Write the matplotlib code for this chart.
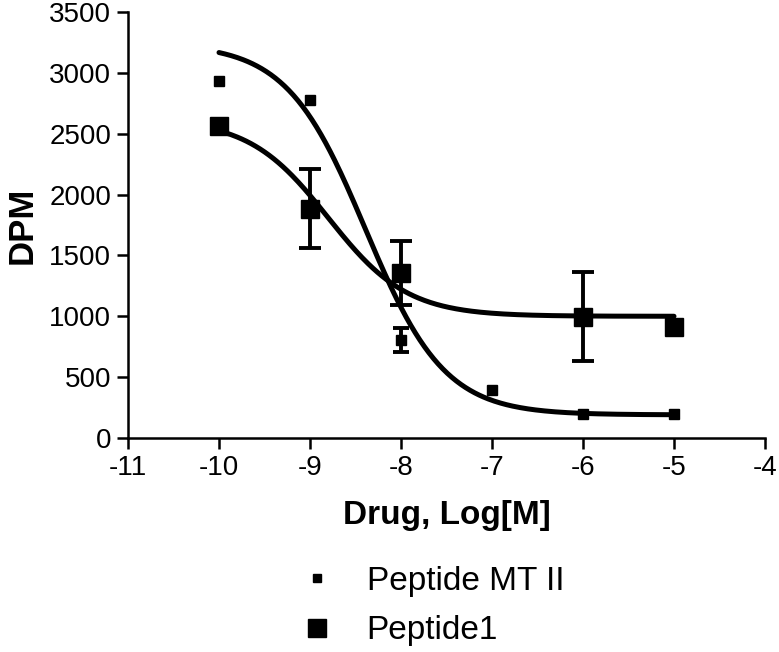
import numpy as np
import matplotlib
matplotlib.use("Agg")
import matplotlib.pyplot as plt
from matplotlib.lines import Line2D

plt.rcParams['font.family'] = ['Liberation Sans', 'DejaVu Sans']

# Data
log_conc = [-10, -9, -8, -7, -6, -5]
mt2_dpm = [2935, 2780, 805, 395, 200, 195]
mt2_err = [0, 0, 95, 0, 0, 0]

p1_conc = [-10, -9, -8, -6, -5]
p1_dpm = [2560, 1885, 1355, 995, 910]
p1_err = [0, 325, 265, 365, 0]

# 4-parameter logistic fit parameters (top, bottom, logIC50, hill)
mt2_fit = (3240, 190, -8.39, 1.0)
p1_fit = (2620, 1000, -8.8, 1.0)

xticks = [-11, -10, -9, -8, -7, -6, -5, -4]
yticks = [0, 500, 1000, 1500, 2000, 2500, 3000, 3500]


def logistic(x, top, bottom, c, h):
    return bottom + (top - bottom) / (1 + 10 ** (h * (x - c)))


def nonzero(xv, yv, ev):
    keep = [i for i, e in enumerate(ev) if e > 0]
    return [xv[i] for i in keep], [yv[i] for i in keep], [ev[i] for i in keep]


fig = plt.figure(figsize=(7.79, 6.52), dpi=100)
ax = fig.add_axes([128 / 779, 1 - 438 / 652, (765 - 128) / 779, (438 - 12) / 652])

xs = np.linspace(-10, -5, 300)
ax.plot(xs, logistic(xs, *mt2_fit), color='black', lw=3.6, solid_capstyle='round', zorder=2)
ax.plot(xs, logistic(xs, *p1_fit), color='black', lw=3.6, solid_capstyle='round', zorder=2)

ex, ey, ee = nonzero(log_conc, mt2_dpm, mt2_err)
ax.errorbar(ex, ey, yerr=ee, fmt='none', ecolor='black',
            elinewidth=2.8, capsize=6, capthick=2.8, zorder=3)
ax.plot(log_conc, mt2_dpm, 's', color='black', ms=6.5, zorder=4)

ex, ey, ee = nonzero(p1_conc, p1_dpm, p1_err)
ax.errorbar(ex, ey, yerr=ee, fmt='none', ecolor='black',
            elinewidth=2.8, capsize=8, capthick=2.8, zorder=3)
ax.plot(p1_conc, p1_dpm, 's', color='black', ms=12.5, zorder=4)

ax.set_xlim(-11, -4)
ax.set_ylim(0, 3500)
ax.set_xticks(xticks)
ax.set_yticks(yticks)
ax.set_xticklabels([str(t) for t in xticks])
ax.set_yticklabels([str(t) for t in yticks])
for s in ['top', 'right']:
    ax.spines[s].set_visible(False)
for s in ['left', 'bottom']:
    ax.spines[s].set_linewidth(1.8)
ax.tick_params(axis='both', which='major', length=8, width=1.8, labelsize=20, pad=4,
               direction='out')

ax.set_xlabel('Drug, Log[M]', fontsize=24, fontweight='bold', labelpad=14)
ax.set_ylabel('DPM', fontsize=25, fontweight='bold', labelpad=8)

handles = [
    Line2D([], [], marker='s', color='black', ls='none', ms=6),
    Line2D([], [], marker='s', color='black', ls='none', ms=12.5),
]
fig.legend(handles, ['Peptide MT II', 'Peptide1'], loc='center left',
           bbox_to_anchor=(270 / 779, 1 - 606 / 652), frameon=False,
           fontsize=24, handlelength=1.0, handletextpad=1.0, labelspacing=0.55)

fig.savefig('out.png', dpi=100)
